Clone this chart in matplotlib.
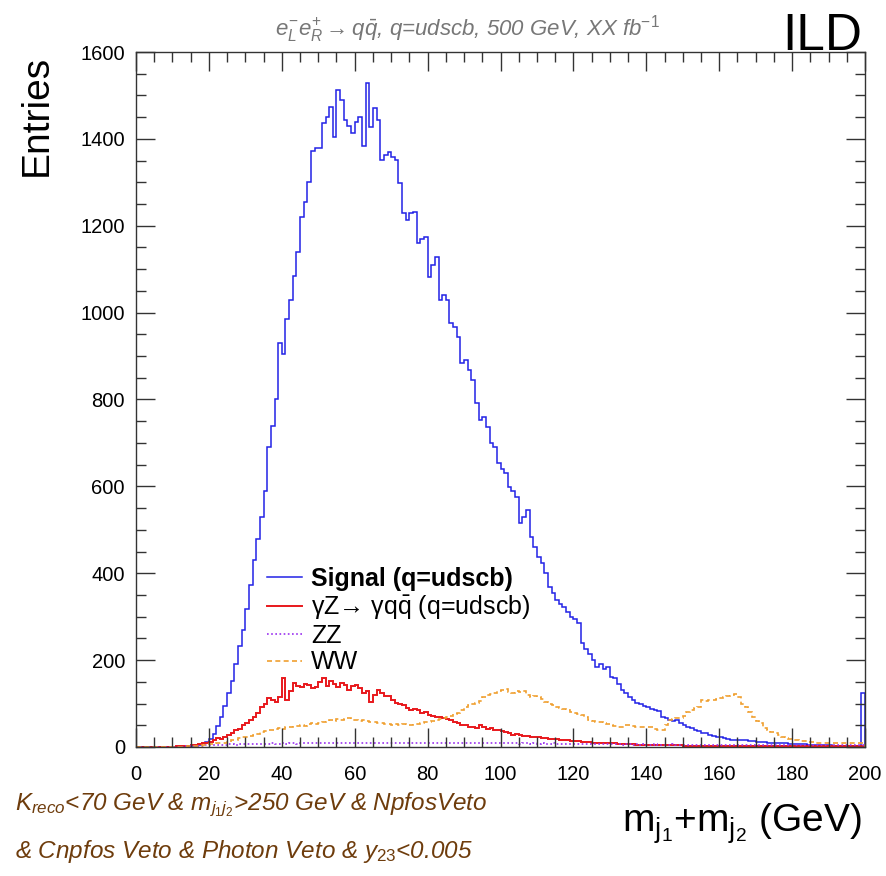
import numpy as np
import matplotlib
matplotlib.use("Agg")
import matplotlib.pyplot as plt

plt.rcParams["font.family"] = ["Liberation Sans", "DejaVu Sans"]
plt.rcParams["mathtext.fontset"] = "custom"
plt.rcParams["mathtext.rm"] = "Liberation Sans"
plt.rcParams["mathtext.it"] = "Liberation Sans:italic"
plt.rcParams["mathtext.bf"] = "Liberation Sans:bold"

# 1 GeV bins from 0 to 200
bin_edges = np.arange(0, 201, 1)

signal = [
    0, 0, 0, 0, 0, 0, 0, 0, 0, 0,
    0, 0, 0, 1, 1, 2, 3, 5, 8, 12,
    18, 30, 48, 70, 95, 125, 152, 190, 232, 270,
    318, 372, 430, 478, 530, 590, 690, 740, 800, 930,
    905, 985, 1030, 1085, 1140, 1220, 1255, 1300, 1372, 1378,
    1380, 1437, 1450, 1474, 1405, 1513, 1490, 1443, 1430, 1414,
    1440, 1451, 1383, 1529, 1428, 1470, 1444, 1352, 1364, 1370,
    1359, 1352, 1298, 1229, 1214, 1229, 1232, 1160, 1170, 1175,
    1083, 1110, 1129, 1030, 1040, 1030, 977, 968, 945, 884,
    890, 868, 845, 792, 753, 760, 737, 700, 691, 654,
    640, 631, 599, 590, 576, 516, 530, 546, 484, 460,
    438, 424, 400, 369, 355, 339, 330, 323, 310, 300,
    295, 286, 239, 225, 215, 200, 184, 190, 180, 184,
    161, 158, 145, 131, 125, 115, 108, 101, 98, 95,
    92, 88, 85, 82, 70, 66, 62, 60, 62, 55,
    50, 46, 44, 40, 36, 33, 32, 28, 26, 24,
    23, 21, 19, 17, 16, 16, 15, 16, 14, 13,
    12, 12, 11, 10, 10, 9, 9, 8, 8, 7,
    7, 7, 6, 6, 5, 5, 5, 4, 4, 4,
    4, 3, 3, 3, 3, 3, 2, 2, 2, 125,
]

gammaz = [
    0, 0, 0, 0, 1, 0, 1, 1, 0, 1,
    1, 2, 2, 3, 3, 4, 5, 6, 8, 10,
    12, 15, 20, 19, 24, 28, 32, 38, 42, 50,
    56, 62, 70, 78, 92, 100, 112, 108, 104, 115,
    158, 108, 130, 147, 140, 138, 145, 143, 135, 138,
    150, 159, 140, 152, 145, 138, 148, 143, 131, 140,
    143, 135, 124, 130, 104, 120, 131, 124, 118, 117,
    108, 101, 100, 97, 90, 85, 88, 85, 78, 80,
    74, 72, 70, 68, 66, 64, 62, 58, 55, 51,
    50, 47, 45, 43, 50, 45, 42, 43, 40, 39,
    36, 34, 32, 28, 30, 27, 26, 25, 24, 23,
    22, 21, 20, 19, 18, 18, 17, 16, 15, 14,
    14, 13, 12, 12, 11, 10, 9, 9, 9, 8,
    8, 8, 7, 7, 6, 6, 6, 5, 5, 5,
    5, 4, 4, 4, 4, 4, 4, 4, 4, 4,
    3, 3, 3, 3, 3, 3, 3, 3, 3, 3,
    2, 2, 2, 2, 2, 2, 2, 2, 2, 2,
    2, 2, 2, 2, 2, 2, 2, 2, 2, 2,
    2, 2, 2, 2, 2, 2, 2, 2, 2, 2,
    2, 2, 2, 2, 2, 2, 2, 2, 2, 2,
]

zz = [
    0, 0, 0, 0, 0, 0, 0, 1, 0, 1,
    1, 1, 1, 2, 2, 2, 3, 3, 3, 4,
    4, 4, 5, 5, 5, 6, 6, 5, 6, 6,
    6, 7, 6, 7, 7, 6, 7, 8, 7, 7,
    8, 7, 8, 8, 7, 8, 8, 9, 8, 8,
    9, 8, 8, 9, 8, 9, 9, 8, 10, 9,
    9, 8, 9, 9, 8, 9, 8, 9, 8, 8,
    9, 8, 8, 9, 8, 8, 9, 8, 9, 8,
    8, 9, 8, 8, 9, 8, 8, 9, 8, 8,
    8, 9, 8, 8, 9, 8, 8, 8, 9, 8,
    8, 8, 9, 8, 8, 7, 8, 8, 7, 8,
    7, 8, 7, 7, 8, 7, 7, 6, 7, 7,
    7, 6, 7, 6, 6, 7, 6, 6, 6, 7,
    6, 6, 6, 5, 6, 6, 5, 6, 5, 6,
    5, 5, 6, 5, 5, 5, 5, 6, 5, 5,
    5, 5, 5, 4, 5, 5, 5, 4, 5, 5,
    4, 5, 4, 5, 4, 4, 5, 4, 4, 5,
    4, 4, 4, 5, 4, 4, 4, 4, 5, 4,
    4, 4, 4, 4, 4, 4, 4, 4, 4, 4,
    4, 4, 4, 4, 4, 4, 4, 4, 4, 5,
]

ww = [
    0, 0, 0, 0, 0, 0, 0, 0, 0, 0,
    1, 1, 1, 1, 2, 2, 3, 3, 4, 5,
    6, 7, 8, 9, 10, 12, 15, 17, 20, 22,
    24, 26, 28, 30, 34, 36, 38, 40, 42, 44,
    42, 46, 45, 48, 49, 50, 48, 52, 55, 53,
    56, 58, 60, 62, 60, 65, 62, 64, 66, 62,
    63, 60, 62, 59, 58, 57, 55, 56, 53, 52,
    51, 52, 50, 52, 51, 50, 52, 54, 55, 57,
    58, 60, 62, 64, 66, 68, 72, 75, 78, 85,
    93, 97, 100, 101, 106, 116, 120, 122, 124, 128,
    131, 133, 126, 124, 130, 127, 128, 120, 116, 118,
    116, 110, 104, 100, 96, 93, 90, 88, 85, 80,
    78, 76, 74, 68, 62, 60, 58, 58, 55, 53,
    51, 49, 47, 47, 50, 51, 48, 47, 47, 46,
    47, 45, 42, 39, 40, 50, 62, 64, 66, 67,
    72, 80, 85, 90, 93, 108, 105, 108, 108, 110,
    112, 115, 118, 120, 122, 116, 100, 93, 80, 70,
    60, 55, 43, 40, 35, 32, 28, 23, 20, 18,
    16, 15, 14, 13, 12, 11, 10, 9, 9, 9,
    9, 8, 8, 8, 8, 8, 8, 8, 8, 8,
]

fig = plt.figure(figsize=(8.86, 8.76), dpi=100)
ax = fig.add_axes([0.1535, 0.1473, 0.8228, 0.7933])

ax.stairs(signal, bin_edges, color="#2222e6", linewidth=1.1,
          label="Signal (q=udscb)")
ax.stairs(gammaz, bin_edges, color="#e8181c", linewidth=1.4,
          label=r"γZ→ γq$\bar{\mathrm{q}}$ (q=udscb)")
ax.stairs(zz, bin_edges, color="#9a30f0", linewidth=1.2, linestyle=(0, (1, 1.5)),
          label="ZZ")
ax.stairs(ww, bin_edges, color="#f0a030", linewidth=1.2, linestyle=(0, (3, 2)),
          label="WW")

ax.set_xlim(0, 200)
ax.set_ylim(0, 1600)
ax.set_xticks(np.arange(0, 201, 20))
ax.set_xticks(np.arange(0, 201, 5), minor=True)
ax.set_yticks(np.arange(0, 1601, 200))
ax.set_yticks(np.arange(0, 1601, 50), minor=True)
ax.tick_params(which="both", direction="in", top=True, right=True,
               labelsize=14.5, width=1.0, color="#333333")
ax.tick_params(which="major", length=14)
ax.tick_params(which="minor", length=7)
ax.tick_params(axis="x", pad=13)
ax.tick_params(axis="y", pad=8)
for s in ax.spines.values():
    s.set_linewidth(1.0)
    s.set_color("#333333")

leg = ax.legend(loc="upper left", bbox_to_anchor=(0.18, 0.259), frameon=False,
                fontsize=18, handlelength=1.4, handletextpad=0.35,
                labelspacing=0.1, borderpad=0, borderaxespad=0)
leg.get_texts()[0].set_fontweight("bold")

fig.text(0.042, 0.937, "Entries", rotation=90, ha="center", va="top", fontsize=28)
fig.text(0.973, 0.050, r"m$_{\mathrm{j}_1}$+m$_{\mathrm{j}_2}$ (GeV)",
         ha="right", va="baseline", fontsize=28)
fig.text(0.528, 0.959,
         r"$e^{-}_{L}e^{+}_{R}\rightarrow q\bar{q}$, q=udscb, 500 GeV, XX fb$^{-1}$",
         ha="center", va="baseline", fontsize=16, style="italic", color="#777777")
fig.text(0.973, 0.943, "ILD", ha="right", va="baseline", fontsize=37)

brown = "#6e3c0c"
fig.text(0.017, 0.075,
         r"$K_{reco}$<70 GeV & $m_{j_{1}j_{2}}$>250 GeV & NpfosVeto",
         ha="left", va="baseline", fontsize=17.5, style="italic", color=brown)
fig.text(0.017, 0.020,
         r"& Cnpfos Veto & Photon Veto & $y_{23}$<0.005",
         ha="left", va="baseline", fontsize=17.5, style="italic", color=brown)

fig.savefig("out.png", dpi=100)
